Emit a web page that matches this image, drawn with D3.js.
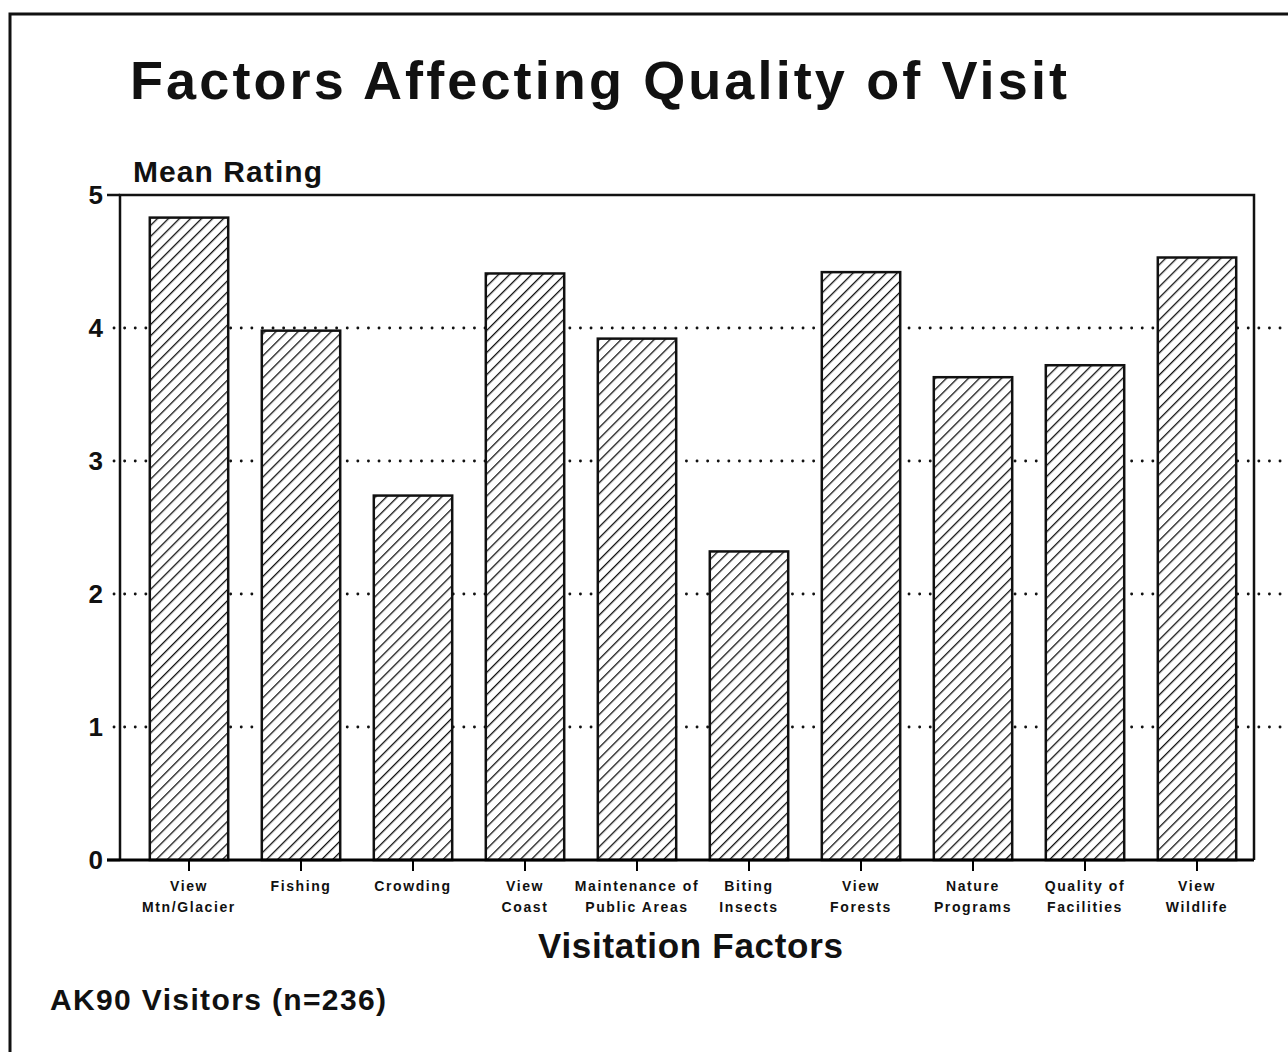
<!DOCTYPE html>
<html>
<head>
<meta charset="utf-8">
<script src="https://cdn.jsdelivr.net/npm/d3@7"></script>
<style>
body { margin: 0; background: #fff; }
text { font-family: "Liberation Sans", Arial, sans-serif; font-weight: bold; fill: #111; }
</style>
</head>
<body>
<svg id="chart" width="1288" height="1052"></svg>
<script>
// data
var factorLines = [
	["View", "Mtn/Glacier"],
	["Fishing"],
	["Crowding"],
	["View", "Coast"],
	["Maintenance of", "Public Areas"],
	["Biting", "Insects"],
	["View", "Forests"],
	["Nature", "Programs"],
	["Quality of", "Facilities"],
	["View", "Wildlife"]
];
var meanRating = [4.83, 3.98, 2.74, 4.41, 3.92, 2.32, 4.42, 3.63, 3.72, 4.53];
var yTicks = [0, 1, 2, 3, 4, 5];
var gridTicks = [1, 2, 3, 4];

var svg = d3.select("#chart");

// page frame
svg.append("rect")
	.attr("x", 10).attr("y", 14)
	.attr("width", 1300).attr("height", 1060)
	.attr("fill", "none").attr("stroke", "#111").attr("stroke-width", 3);

// hatch pattern
var defs = svg.append("defs");
defs.append("pattern")
	.attr("id", "hatch")
	.attr("patternUnits", "userSpaceOnUse")
	.attr("width", 7.8).attr("height", 7.8)
	.attr("patternTransform", "rotate(45)")
	.append("line")
		.attr("x1", 0).attr("y1", 0)
		.attr("x2", 0).attr("y2", 7.8)
		.attr("stroke", "#111").attr("stroke-width", 2.6);

var plotLeft = 120, plotTop = 195, plotRight = 1254, plotBottom = 860;

var x = d3.scaleBand()
	.domain(d3.range(factorLines.length))
	.range([133, 1253])
	.paddingInner(0.3)
	.paddingOuter(0.15);

var y = d3.scaleLinear()
	.domain([0, 5])
	.range([plotBottom, plotTop]);

// gridlines (dotted)
svg.append("g").selectAll("line")
	.data(gridTicks)
	.enter()
	.append("line")
		.attr("x1", plotLeft - 6).attr("x2", 1285)
		.attr("y1", d => y(d)).attr("y2", d => y(d))
		.attr("stroke", "#111")
		.attr("stroke-width", 2.8)
		.attr("stroke-linecap", "round")
		.attr("stroke-dasharray", "0.1 10.5");

// bars: white under, hatch on top
svg.append("g").selectAll("rect")
	.data(meanRating)
	.enter()
	.append("rect")
		.attr("x", (d, i) => x(i))
		.attr("y", d => y(d))
		.attr("width", x.bandwidth())
		.attr("height", d => y(0) - y(d))
		.attr("fill", "#fff");

svg.append("g").selectAll("rect")
	.data(meanRating)
	.enter()
	.append("rect")
		.attr("x", (d, i) => x(i))
		.attr("y", d => y(d))
		.attr("width", x.bandwidth())
		.attr("height", d => y(0) - y(d))
		.attr("fill", "url(#hatch)")
		.attr("stroke", "#111")
		.attr("stroke-width", 2.5);

// plot frame
svg.append("path")
	.attr("d", "M" + plotLeft + "," + plotBottom + "V" + plotTop + "H" + plotRight + "V" + plotBottom)
	.attr("fill", "none").attr("stroke", "#111").attr("stroke-width", 2.5);

// y axis
var yAxis = svg.append("g")
	.attr("transform", "translate(" + plotLeft + ",0)")
	.call(d3.axisLeft(y).tickValues(yTicks).tickFormat(d3.format("d")).tickSize(0).tickPadding(17));
yAxis.select(".domain").remove();
yAxis.selectAll("text")
	.attr("font-size", 26)
	.attr("font-family", "Liberation Sans, Arial, sans-serif")
	.attr("font-weight", "bold");
svg.append("g").selectAll("line")
	.data([0, 5])
	.enter()
	.append("line")
		.attr("x1", 107).attr("x2", plotLeft)
		.attr("y1", d => y(d)).attr("y2", d => y(d))
		.attr("stroke", "#111").attr("stroke-width", 2.5);

// x axis
var xAxis = svg.append("g")
	.attr("transform", "translate(0," + plotBottom + ")")
	.call(d3.axisBottom(x).tickSize(11).tickFormat(""));
xAxis.select(".domain").attr("d", "M" + (plotLeft - 13) + ",0H" + plotRight).attr("stroke-width", 3);
xAxis.selectAll(".tick line").attr("stroke-width", 2);

// category labels
var labels = svg.append("g").selectAll("text")
	.data(factorLines)
	.enter()
	.append("text")
		.attr("text-anchor", "middle")
		.attr("font-size", 14)
		.attr("letter-spacing", 1.6)
		.attr("x", (d, i) => x(i) + x.bandwidth() / 2)
		.attr("y", 891);
labels.selectAll("tspan")
	.data(d => d)
	.enter()
	.append("tspan")
		.attr("x", function() { return d3.select(this.parentNode).attr("x"); })
		.attr("dy", (d, i) => i == 0 ? 0 : 21)
		.text(d => d);

// titles
svg.append("text")
	.attr("x", 130).attr("y", 99)
	.attr("font-size", 54)
	.attr("textLength", 937)
	.attr("lengthAdjust", "spacing")
	.text("Factors Affecting Quality of Visit");

svg.append("text")
	.attr("x", 133).attr("y", 182)
	.attr("font-size", 30)
	.attr("textLength", 189)
	.attr("lengthAdjust", "spacing")
	.text("Mean Rating");

svg.append("text")
	.attr("x", 538).attr("y", 958)
	.attr("font-size", 35)
	.attr("textLength", 305)
	.attr("lengthAdjust", "spacing")
	.text("Visitation Factors");

svg.append("text")
	.attr("x", 50).attr("y", 1010)
	.attr("font-size", 30)
	.attr("textLength", 336)
	.attr("lengthAdjust", "spacing")
	.text("AK90 Visitors (n=236)");
</script>
</body>
</html>
